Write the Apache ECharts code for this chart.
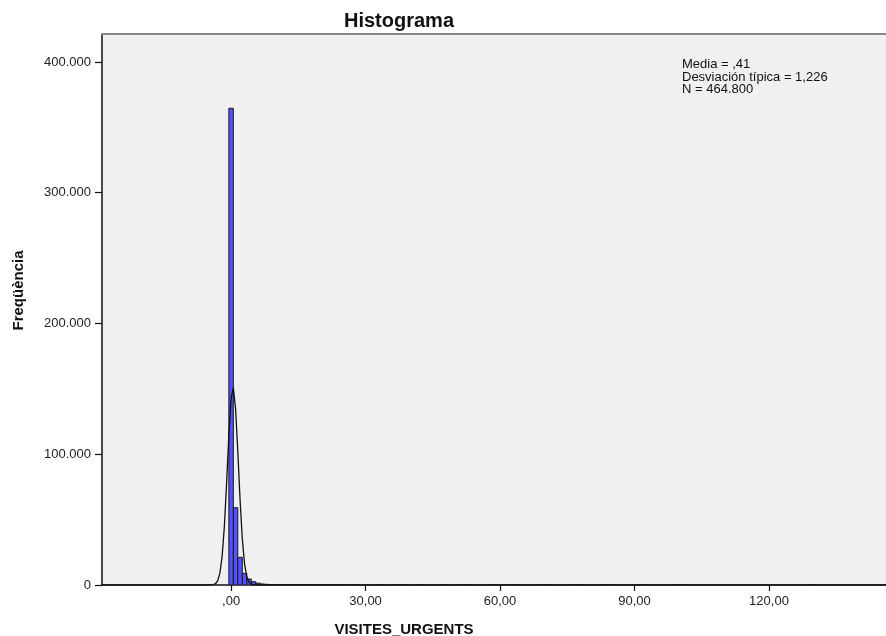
<!DOCTYPE html>
<html>
<head>
<meta charset="utf-8">
<script src="https://cdn.jsdelivr.net/npm/echarts@6/dist/echarts.min.js"></script>
<style>
html,body{margin:0;padding:0;background:#fff;}
#chart{width:886px;height:636px;}
</style>
</head>
<body>
<div id="chart"></div>
<script>
// Histogram bins: integer values of VISITES_URGENTS and their frequencies
var binValues = [0, 1, 2, 3, 4, 5, 6, 7, 8, 9, 10, 11, 12, 13, 14, 15, 16, 17, 18, 20, 22, 25, 28, 33, 38, 42, 47, 52, 58, 63, 70, 77, 84, 91, 100, 130];
var binCounts = [364600, 59100, 21200, 8900, 4600, 2500, 1400, 800, 500, 320, 210, 150, 110, 80, 60, 45, 35, 28, 22, 18, 14, 10, 8, 6, 5, 4, 4, 3, 3, 2, 2, 2, 2, 1, 1, 1];

// Normal curve points
var curveX = [-28.8, -5, -4, -3.5, -3, -2.5, -2, -1.5, -1, -0.5, 0, 0.5, 1, 1.5, 2, 2.5, 3, 3.5, 4, 4.5, 5, 6, 146.1];
var curveY = [0, 0, 230, 940, 3160, 9050, 21900, 44900, 78100, 114800, 143000, 150800, 134800, 101900, 65200, 35400, 16200, 6300, 2080, 580, 140, 0, 0];

var xTickValues = [0, 30, 60, 90, 120];
var yTickValues = [0, 100000, 200000, 300000, 400000];

var statsLines = ['Media = ,41', 'Desviación típica = 1,226', 'N = 464.800'];

var binData = binValues.map(function (v, i) { return [v - 0.5, v + 0.5, binCounts[i]]; });
var curveData = curveX.map(function (x, i) { return [x, curveY[i]]; });

function fmtX(v) {
  var s = v.toFixed(2).replace('.', ',');
  if (s.indexOf('0,') === 0) s = s.substring(1);
  return s;
}
function fmtY(v) {
  return String(Math.round(v)).replace(/\B(?=(\d{3})+(?!\d))/g, '.');
}

var FONT = '"Liberation Sans", Arial, sans-serif';
var chart = echarts.init(document.getElementById('chart'));
chart.setOption({
  animation: false,
  backgroundColor: '#ffffff',
  textStyle: { fontFamily: FONT },
  title: {
    text: 'Histograma',
    left: 394, top: 6,
    textAlign: 'center',
    textStyle: { fontFamily: FONT, fontSize: 20, fontWeight: 'bold', color: '#111' }
  },
  grid: {
    left: 102, right: 0, top: 34, bottom: 51,
    containLabel: false,
    outerBoundsMode: 'none',
    show: true, backgroundColor: '#f0f0f0', borderWidth: 0
  },
  xAxis: [{
    type: 'value',
    min: -28.8, max: 146.1,
    name: 'VISITES_URGENTS',
    nameLocation: 'middle',
    nameGap: 37,
    nameTextStyle: { fontFamily: FONT, fontSize: 15, fontWeight: 'bold', color: '#111', padding: [0, 180, 0, 0] },
    axisLine: { show: true, onZero: false, lineStyle: { color: '#111', width: 1.5 } },
    axisTick: { show: true, length: 6, customValues: xTickValues, lineStyle: { color: '#111', width: 1.2 } },
    axisLabel: { customValues: xTickValues, formatter: fmtX, fontSize: 13, color: '#222', margin: 10, fontFamily: FONT },
    splitLine: { show: false }
  }, {
    type: 'value',
    position: 'top',
    min: -28.8, max: 146.1,
    axisLine: { show: true, onZero: false, lineStyle: { color: '#888', width: 2 } },
    axisTick: { show: false },
    axisLabel: { show: false },
    splitLine: { show: false }
  }],
  yAxis: {
    type: 'value',
    min: 0, max: 421400,
    name: 'Freqüència',
    nameLocation: 'middle',
    nameGap: 76,
    nameTextStyle: { fontFamily: FONT, fontSize: 15, fontWeight: 'bold', color: '#111', padding: [0, 0, 0, 38] },
    axisLine: { show: true, onZero: false, lineStyle: { color: '#111', width: 1.5 } },
    axisTick: { show: true, length: 7, customValues: yTickValues, lineStyle: { color: '#111', width: 1.2 } },
    axisLabel: { customValues: yTickValues, formatter: fmtY, fontSize: 13, color: '#222', margin: 11, fontFamily: FONT },
    splitLine: { show: false }
  },
  graphic: [{
    type: 'text',
    left: 682, top: 58,
    style: {
      text: statsLines.join('\n'),
      fontFamily: FONT, fontSize: 13, lineHeight: 12.5, fill: '#111'
    },
    z: 100
  }],
  series: [{
    type: 'custom',
    xAxisIndex: 0,
    data: binData,
    clip: true,
    renderItem: function (params, api) {
      var p0 = api.coord([api.value(0), api.value(2)]);
      var p1 = api.coord([api.value(1), 0]);
      return {
        type: 'rect',
        shape: { x: p0[0], y: p0[1], width: p1[0] - p0[0], height: p1[1] - p0[1] },
        style: { fill: '#5252ff', stroke: '#1a1a1a', lineWidth: 1 }
      };
    },
    z: 2
  }, {
    type: 'line',
    xAxisIndex: 0,
    data: curveData,
    showSymbol: false,
    symbol: 'none',
    lineStyle: { color: '#111', width: 1.3 },
    z: 3
  }]
});
</script>
</body>
</html>
